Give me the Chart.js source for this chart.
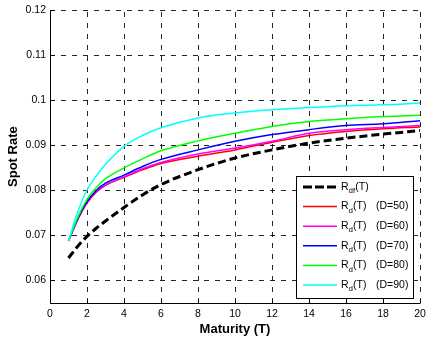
<!DOCTYPE html>
<html>
<head>
<meta charset="utf-8">
<script src="https://cdn.jsdelivr.net/npm/chart.js@4/dist/chart.umd.min.js"></script>
<style>
    html, body { margin: 0; padding: 0; background: #fff; }
    #wrap { width: 428px; height: 343px; }
</style>
</head>
<body>
<div id="wrap"><canvas id="chart"></canvas></div>
<script>
// maturities (T) where values were read
const maturity = [1, 1.5, 2, 2.5, 3, 4, 5, 6, 8, 10, 12, 14, 16, 18, 20];

const rdf   = [0.0650, 0.0676, 0.0698, 0.0716, 0.0732, 0.0762, 0.0790, 0.0813, 0.0846, 0.0872, 0.0890, 0.0905, 0.0916, 0.0925, 0.0933];
const rd50  = [0.0688, 0.0735, 0.0772, 0.0796, 0.0811, 0.0829, 0.0846, 0.0860, 0.0876, 0.0890, 0.0907, 0.0922, 0.0931, 0.0937, 0.0941];
const rd60  = [0.0688, 0.0736, 0.0773, 0.0797, 0.0812, 0.0830, 0.0848, 0.0862, 0.0881, 0.0894, 0.0909, 0.0927, 0.0935, 0.0940, 0.0944];
const rd70  = [0.0688, 0.0737, 0.0775, 0.0800, 0.0816, 0.0834, 0.0853, 0.0869, 0.0890, 0.0909, 0.0924, 0.0935, 0.0944, 0.0948, 0.0955];
const rd80  = [0.0688, 0.0740, 0.0780, 0.0806, 0.0826, 0.0850, 0.0870, 0.0888, 0.0910, 0.0927, 0.0942, 0.0953, 0.0959, 0.0964, 0.0967];
const rd90  = [0.0688, 0.0752, 0.0801, 0.0832, 0.0858, 0.0898, 0.0922, 0.0939, 0.0961, 0.0972, 0.0979, 0.0984, 0.0988, 0.0990, 0.0994];

const xTicks = [0, 2, 4, 6, 8, 10, 12, 14, 16, 18, 20];
const yTicks = [0.06, 0.07, 0.08, 0.09, 0.10, 0.11, 0.12];

const series = [
    { sub: "df", tag: "", data: rdf, color: "#000000", width: 3, dash: [8, 4] },
    { sub: "d", tag: "(D=50)", data: rd50, color: "#ff0000", width: 1.5, dash: [] },
    { sub: "d", tag: "(D=60)", data: rd60, color: "#ff00ff", width: 1.5, dash: [] },
    { sub: "d", tag: "(D=70)", data: rd70, color: "#0000ff", width: 1.5, dash: [] },
    { sub: "d", tag: "(D=80)", data: rd80, color: "#00ff00", width: 1.5, dash: [] },
    { sub: "d", tag: "(D=90)", data: rd90, color: "#00ffff", width: 1.5, dash: [] }
];

const FONT = "'Liberation Sans', Arial, sans-serif";

// dashed grid, drawn under the lines
const gridPlugin = {
    id: "dashGrid",
    beforeDatasetsDraw(chart) {
        const { ctx, chartArea, scales } = chart;
        ctx.save();
        ctx.strokeStyle = "rgba(0,0,0,0.85)";
        ctx.lineWidth = 1;
        ctx.setLineDash([5, 6]);
        xTicks.forEach(t => {
            const x = Math.round(scales.x.getPixelForValue(t)) + 0.5;
            ctx.beginPath();
            ctx.moveTo(x, chartArea.bottom);
            ctx.lineTo(x, chartArea.top);
            ctx.stroke();
        });
        yTicks.forEach(t => {
            const y = Math.round(scales.y.getPixelForValue(t)) + 0.5;
            ctx.beginPath();
            ctx.moveTo(chartArea.left, y);
            ctx.lineTo(chartArea.right, y);
            ctx.stroke();
        });
        ctx.restore();
    }
};

// inward ticks and solid left/bottom axes
const axisPlugin = {
    id: "axes",
    afterDatasetsDraw(chart) {
        const { ctx, chartArea, scales } = chart;
        const l = Math.round(chartArea.left) + 0.5;
        const b = Math.round(chartArea.bottom) + 0.5;
        ctx.save();
        ctx.strokeStyle = "#000";
        ctx.lineWidth = 1;
        ctx.setLineDash([]);
        ctx.beginPath();
        ctx.moveTo(l, chartArea.top);
        ctx.lineTo(l, b);
        ctx.lineTo(chartArea.right, b);
        xTicks.forEach(t => {
            const x = Math.round(scales.x.getPixelForValue(t)) + 0.5;
            ctx.moveTo(x, b);
            ctx.lineTo(x, b - 4);
        });
        yTicks.forEach(t => {
            const y = Math.round(scales.y.getPixelForValue(t)) + 0.5;
            ctx.moveTo(l, y);
            ctx.lineTo(l + 4, y);
        });
        ctx.stroke();
        ctx.restore();
    }
};

// legend box inside the plot, with subscripts
const legendPlugin = {
    id: "boxLegend",
    afterDraw(chart) {
        const { ctx, chartArea } = chart;
        const w = 117, h = 122;
        const x0 = Math.round(chartArea.right - 7 - w);
        const y0 = Math.round(chartArea.bottom - 5 - h);
        ctx.save();
        ctx.fillStyle = "#fff";
        ctx.fillRect(x0, y0, w, h);
        ctx.strokeStyle = "#000";
        ctx.lineWidth = 1;
        ctx.setLineDash([]);
        ctx.strokeRect(x0 + 0.5, y0 + 0.5, w, h);
        series.forEach((s, i) => {
            const cy = y0 + 11 + i * 19.6;
            ctx.strokeStyle = s.color;
            ctx.lineWidth = s.width;
            ctx.setLineDash(s.dash.length ? [9, 3] : []);
            ctx.beginPath();
            ctx.moveTo(x0 + 7, cy);
            ctx.lineTo(x0 + 41, cy);
            ctx.stroke();
            ctx.fillStyle = "#000";
            ctx.textBaseline = "middle";
            ctx.textAlign = "left";
            let tx = x0 + 45;
            ctx.font = "10.5px " + FONT;
            ctx.fillText("R", tx, cy);
            tx += ctx.measureText("R").width;
            ctx.font = "8px " + FONT;
            ctx.fillText(s.sub, tx, cy + 4);
            tx += ctx.measureText(s.sub).width;
            ctx.font = "10.5px " + FONT;
            ctx.fillText("(T)", tx, cy);
            if (s.tag) ctx.fillText(s.tag, x0 + 80, cy);
        });
        ctx.restore();
    }
};

const datasets = series.map((s, i) => ({
    label: s.tag,
    data: maturity.map((t, k) => ({ x: t, y: s.data[k] })),
    borderColor: s.color,
    borderWidth: s.width,
    borderDash: s.dash,
    pointRadius: 0,
    fill: false,
    cubicInterpolationMode: "monotone",
    order: series.length - i
}));

new Chart(document.getElementById("chart"), {
    type: "line",
    data: { datasets },
    options: {
        responsive: true,
        maintainAspectRatio: false,
        animation: false,
        layout: { padding: { left: 0, top: 10, right: 0, bottom: 0 } },
        plugins: {
            legend: { display: false },
            tooltip: { enabled: false }
        },
        scales: {
            x: {
                type: "linear",
                min: 0,
                max: 20,
                afterBuildTicks: scale => { scale.ticks = xTicks.map(v => ({ value: v })); },
                afterFit: scale => {
                    scale.height = 40;
                    scale.paddingLeft = 0;
                    scale.paddingRight = 8;
                },
                grid: { display: false, drawTicks: false },
                border: { display: false },
                ticks: {
                    padding: 5,
                    color: "#000",
                    font: { family: FONT, size: 10.5 }
                },
                title: {
                    display: true,
                    text: "Maturity (T)",
                    color: "#000",
                    font: { family: FONT, size: 13, weight: "bold" },
                    padding: { top: 0, bottom: 6 }
                }
            },
            y: {
                min: 0.055,
                max: 0.12,
                afterBuildTicks: scale => { scale.ticks = yTicks.map(v => ({ value: v })); },
                afterFit: scale => { scale.width = 50; },
                grid: { display: false, drawTicks: false },
                border: { display: false },
                ticks: {
                    padding: 4,
                    color: "#000",
                    font: { family: FONT, size: 10.5 },
                    callback: v => String(parseFloat(Number(v).toFixed(3)))
                },
                title: {
                    display: true,
                    text: "Spot Rate",
                    color: "#000",
                    font: { family: FONT, size: 13, weight: "bold" },
                    padding: { top: 6, bottom: 0 }
                }
            }
        }
    },
    plugins: [gridPlugin, axisPlugin, legendPlugin]
});
</script>
</body>
</html>
